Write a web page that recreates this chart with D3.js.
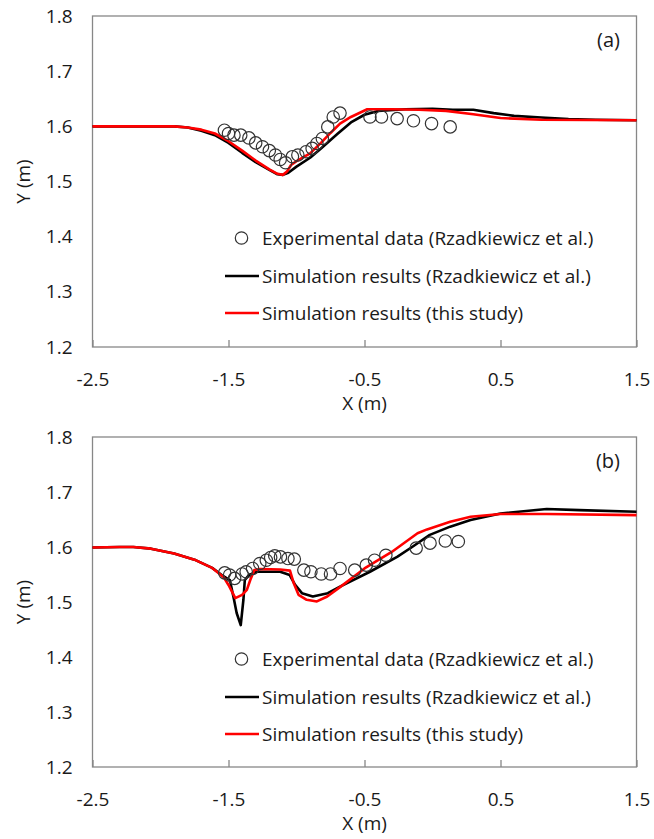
<!DOCTYPE html>
<html lang="en">
<head>
    <meta charset="UTF-8">
    <title>Free surface profiles</title>
    <script src="https://d3js.org/d3.v7.min.js"></script>
    <style>
        body { margin: 0; background: #fff; font-family: "Open Sans", sans-serif; }
        text { fill: #1a1a1a; }
    </style>
</head>
<body>
    <svg width="654" height="839"></svg>
    <script>
        // tick labels
        const xTicks = [-2.5, -1.5, -0.5, 0.5, 1.5];
        const yTicks = [1.2, 1.3, 1.4, 1.5, 1.6, 1.7, 1.8];
        const legendLabels = [
            "Experimental data (Rzadkiewicz et al.)",
            "Simulation results (Rzadkiewicz et al.)",
            "Simulation results (this study)"
        ];

        // panel (a)
        const expA = [[-1.53,1.593],[-1.50,1.587],[-1.46,1.584],[-1.41,1.584],[-1.35,1.579],[-1.30,1.570],
            [-1.25,1.563],[-1.20,1.556],[-1.155,1.548],[-1.12,1.540],[-1.08,1.534],[-1.03,1.545],[-0.99,1.548],
            [-0.93,1.554],[-0.885,1.560],[-0.85,1.569],[-0.81,1.578],[-0.77,1.599],[-0.73,1.617],[-0.68,1.624],
            [-0.46,1.617],[-0.375,1.617],[-0.26,1.614],[-0.14,1.610],[-0.007,1.605],[0.13,1.599]];
        const rzA = [[-2.5,1.600],[-2.2,1.600],[-1.9,1.600],[-1.8,1.598],[-1.7,1.592],[-1.6,1.584],[-1.5,1.570],
            [-1.4,1.552],[-1.3,1.535],[-1.2,1.521],[-1.14,1.513],[-1.1,1.512],[-1.06,1.516],[-1.0,1.527],
            [-0.9,1.543],[-0.82,1.560],[-0.7,1.586],[-0.6,1.607],[-0.5,1.621],[-0.4,1.628],[-0.2,1.631],
            [0.0,1.632],[0.15,1.630],[0.3,1.630],[0.45,1.624],[0.6,1.619],[0.8,1.616],[1.0,1.613],[1.2,1.612],[1.5,1.611]];
        const thisA = [[-2.5,1.600],[-2.2,1.600],[-1.9,1.600],[-1.8,1.598],[-1.7,1.594],[-1.6,1.587],[-1.5,1.573],
            [-1.4,1.556],[-1.3,1.538],[-1.2,1.522],[-1.14,1.514],[-1.1,1.512],[-1.07,1.518],[-1.04,1.530],
            [-1.0,1.537],[-0.9,1.551],[-0.82,1.570],[-0.75,1.588],[-0.68,1.605],[-0.6,1.617],[-0.48,1.631],
            [-0.3,1.631],[-0.1,1.630],[0.1,1.628],[0.3,1.622],[0.5,1.615],[0.8,1.612],[1.5,1.611]];

        // panel (b)
        const expB = [[-1.528,1.553],[-1.492,1.549],[-1.455,1.543],[-1.40,1.551],[-1.37,1.555],[-1.323,1.561],
            [-1.27,1.570],[-1.222,1.576],[-1.19,1.581],[-1.16,1.584],[-1.118,1.582],[-1.063,1.579],[-1.016,1.578],
            [-0.946,1.558],[-0.894,1.555],[-0.818,1.551],[-0.75,1.551],[-0.68,1.561],[-0.572,1.558],[-0.487,1.567],
            [-0.426,1.576],[-0.343,1.585],[-0.12,1.598],[-0.018,1.607],[0.094,1.611],[0.19,1.610]];
        const rzB = [[-2.5,1.599],[-2.3,1.600],[-2.2,1.600],[-2.07,1.597],[-1.9,1.588],[-1.75,1.577],[-1.62,1.562],
            [-1.55,1.549],[-1.49,1.540],[-1.46,1.505],[-1.44,1.480],[-1.41,1.458],[-1.39,1.505],[-1.38,1.540],
            [-1.35,1.549],[-1.29,1.555],[-1.12,1.555],[-1.05,1.549],[-1.01,1.531],[-0.96,1.516],[-0.88,1.510],
            [-0.77,1.516],[-0.68,1.528],[-0.46,1.555],[-0.26,1.582],[-0.15,1.600],[-0.02,1.622],[0.13,1.637],
            [0.28,1.649],[0.5,1.661],[0.84,1.669],[1.08,1.667],[1.5,1.664]];
        const thisB = [[-2.5,1.599],[-2.3,1.600],[-2.2,1.600],[-2.07,1.597],[-1.9,1.588],[-1.75,1.577],[-1.62,1.562],
            [-1.535,1.545],[-1.50,1.531],[-1.45,1.507],[-1.40,1.513],[-1.365,1.522],[-1.34,1.540],[-1.31,1.558],
            [-1.265,1.560],[-1.12,1.559],[-1.048,1.557],[-1.02,1.534],[-0.985,1.513],[-0.925,1.504],[-0.85,1.501],
            [-0.774,1.510],[-0.68,1.527],[-0.5,1.561],[-0.3,1.591],[-0.11,1.625],[-0.04,1.632],[0.13,1.646],
            [0.28,1.655],[0.5,1.660],[0.84,1.660],[1.5,1.658]];

        const svg = d3.select("svg");
        const left = 92.5, right = 636.5;
        const x = d3.scaleLinear().domain([-2.5, 1.5]).range([left, right]);
        const fmt = d => d.toFixed(1);   // plain hyphen minus, like the original

        function drawPanel(top, bottom, tag, exp, rz, mine) {
            const y = d3.scaleLinear().domain([1.2, 1.8]).range([bottom, top]);
            const g = svg.append("g");

            // frame
            g.append("rect")
                .attr("x", left).attr("y", top)
                .attr("width", right - left).attr("height", bottom - top)
                .attr("fill", "none").attr("stroke", "#878787").attr("stroke-width", 1.3);

            // x ticks point inward
            const xAxis = d3.axisBottom(x).tickValues(xTicks).tickSize(-7).tickFormat(fmt);
            const xg = g.append("g").attr("transform", `translate(0,${bottom})`).call(xAxis);
            xg.select(".domain").remove();
            xg.selectAll("line").attr("stroke", "#878787").attr("stroke-width", 1.3);
            xg.selectAll("text").attr("y", 26).attr("font-size", 19).attr("font-family", "Open Sans");

            const yAxis = d3.axisLeft(y).tickValues(yTicks).tickSize(0).tickFormat(fmt);
            const yg = g.append("g").attr("transform", `translate(${left},0)`).call(yAxis);
            yg.select(".domain").remove();
            yg.selectAll("text").attr("x", -20).attr("font-size", 19).attr("font-family", "Open Sans");

            g.append("text").attr("x", (left + right) / 2).attr("y", bottom + 63)
                .attr("text-anchor", "middle").attr("font-size", 19).text("X (m)");
            g.append("text")
                .attr("transform", `translate(30,${(top + bottom) / 2}) rotate(-90)`)
                .attr("text-anchor", "middle").attr("font-size", 19).text("Y (m)");
            g.append("text").attr("x", 620).attr("y", top + 31)
                .attr("text-anchor", "end").attr("font-size", 20).text(tag);

            const line = d3.line().x(d => x(d[0])).y(d => y(d[1]));
            g.append("path").datum(rz).attr("d", line)
                .attr("fill", "none").attr("stroke", "#000").attr("stroke-width", 2.6)
                .attr("stroke-linejoin", "round");
            g.append("path").datum(mine).attr("d", line)
                .attr("fill", "none").attr("stroke", "#ff0000").attr("stroke-width", 2.6)
                .attr("stroke-linejoin", "round");

            g.selectAll("circle.exp").data(exp).enter().append("circle")
                .attr("class", "exp")
                .attr("cx", d => x(d[0])).attr("cy", d => y(d[1])).attr("r", 6.2)
                .attr("fill", "none").attr("stroke", "#333").attr("stroke-width", 1.2);

            // legend
            const ly = [top + 222, top + 260, top + 297];
            const lg = g.append("g");
            lg.append("circle").attr("cx", 241.5).attr("cy", ly[0]).attr("r", 6.2)
                .attr("fill", "none").attr("stroke", "#333").attr("stroke-width", 1.2);
            lg.append("line").attr("x1", 225).attr("x2", 259).attr("y1", ly[1]).attr("y2", ly[1])
                .attr("stroke", "#000").attr("stroke-width", 2.6);
            lg.append("line").attr("x1", 225).attr("x2", 259).attr("y1", ly[2]).attr("y2", ly[2])
                .attr("stroke", "#ff0000").attr("stroke-width", 2.6);
            lg.selectAll("text").data(legendLabels).enter().append("text")
                .attr("x", 262).attr("y", (d, i) => ly[i] + 7)
                .attr("font-size", 19).text(d => d);
        }

        drawPanel(16, 347, "(a)", expA, rzA, thisA);
        drawPanel(437, 767, "(b)", expB, rzB, thisB);
    </script>
</body>
</html>
